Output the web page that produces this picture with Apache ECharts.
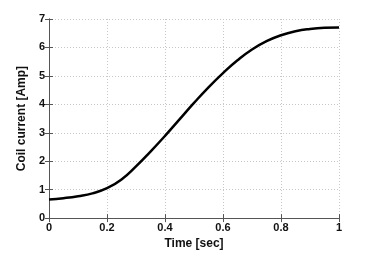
<!DOCTYPE html>
<html><head><meta charset="utf-8">
<script src="https://cdn.jsdelivr.net/npm/echarts@6/dist/echarts.min.js"></script>
<style>html,body{margin:0;padding:0;background:#fff}#c{width:374px;height:255px}</style>
</head><body><div id="c"></div>
<script>
const times = [0,0.05,0.1,0.15,0.2,0.25,0.3,0.35,0.4,0.45,0.5,0.55,0.6,0.65,0.7,0.75,0.8,0.85,0.9,0.95,1];
const current = [0.65,0.70,0.77,0.87,1.05,1.36,1.82,2.34,2.89,3.47,4.05,4.60,5.10,5.55,5.93,6.22,6.43,6.57,6.65,6.69,6.70];
const xTitle = 'Time [sec]';
const yTitle = 'Coil current [Amp]';
const font = 'Liberation Sans, Arial, Helvetica, sans-serif';
const chart = echarts.init(document.getElementById('c'), null, {renderer:'canvas'});
const frame = {show:true, lineStyle:{color:'#555', width:1}};
const tickIn = {show:true, inside:true, length:4, lineStyle:{color:'#555'}};
const grid = {show:true, lineStyle:{color:'#c8c8c8', type:[1,2], width:1}};
chart.setOption({
  animation:false,
  grid:{left:49, right:35, top:19, bottom:28, containLabel:false},
  xAxis:[{
    type:'value', min:0, max:1, interval:0.2,
    name:xTitle, nameLocation:'middle', nameGap:19,
    nameTextStyle:{fontFamily:font, fontWeight:'bold', fontSize:12, color:'#111'},
    axisLine:frame, axisTick:tickIn, splitLine:grid,
    axisLabel:{fontFamily:font, fontWeight:'bold', fontSize:11, color:'#111', margin:4}
  },{
    type:'value', min:0, max:1, interval:0.2, position:'top',
    axisLine:frame, axisTick:tickIn, splitLine:{show:false}, axisLabel:{show:false}
  }],
  yAxis:[{
    type:'value', min:0, max:7, interval:1,
    name:yTitle, nameLocation:'middle', nameGap:17,
    nameTextStyle:{fontFamily:font, fontWeight:'bold', fontSize:12, color:'#111'},
    axisLine:frame, axisTick:tickIn, splitLine:grid,
    axisLabel:{fontFamily:font, fontWeight:'bold', fontSize:11, color:'#111', margin:4}
  },{
    type:'value', min:0, max:7, interval:1, position:'right',
    axisLine:frame, axisTick:tickIn, splitLine:{show:false}, axisLabel:{show:false}
  }],
  series:[{
    type:'line', data:times.map((t,i)=>[t,current[i]]),
    smooth:0.5, showSymbol:false,
    lineStyle:{color:'#000', width:2.5}
  }]
});
</script></body></html>
